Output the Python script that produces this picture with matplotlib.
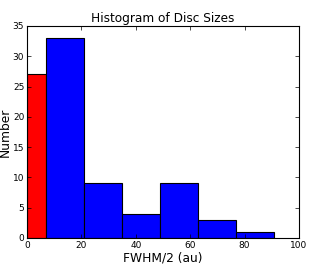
import numpy as np
import matplotlib
matplotlib.use("Agg")
import matplotlib.pyplot as plt

# bin edges and counts
red_edges = [0, 7]
red_counts = [27]
blue_edges = [7, 21, 35, 49, 63, 77, 91]
blue_counts = [33, 9, 4, 9, 3, 1]

fig = plt.figure(figsize=(3.34, 2.65), dpi=100)
ax = fig.add_axes([0.081, 0.102, 0.814, 0.8])

def draw(edges, counts, color):
    edges = np.asarray(edges, dtype=float)
    ax.bar(edges[:-1], counts, width=np.diff(edges), align='edge',
           color=color, edgecolor='black', linewidth=0.8)

draw(red_edges, red_counts, 'red')
draw(blue_edges, blue_counts, 'blue')

ax.set_xlim(0, 100)
ax.set_ylim(0, 35)
ax.set_xticks([0, 20, 40, 60, 80, 100])
ax.set_yticks([0, 5, 10, 15, 20, 25, 30, 35])
ax.tick_params(direction='in', top=True, right=True, labelsize=6.5,
               length=3, width=0.5, pad=2)
for s in ax.spines.values():
    s.set_linewidth(0.8)
ax.set_title('Histogram of Disc Sizes', fontsize=8.7, pad=3)
ax.set_xlabel('FWHM/2 (au)', fontsize=8.8, labelpad=1)
ax.set_ylabel('Number', fontsize=8.8)
ax.yaxis.set_label_coords(-0.058, 0.5)

fig.savefig('out.png', dpi=100)
